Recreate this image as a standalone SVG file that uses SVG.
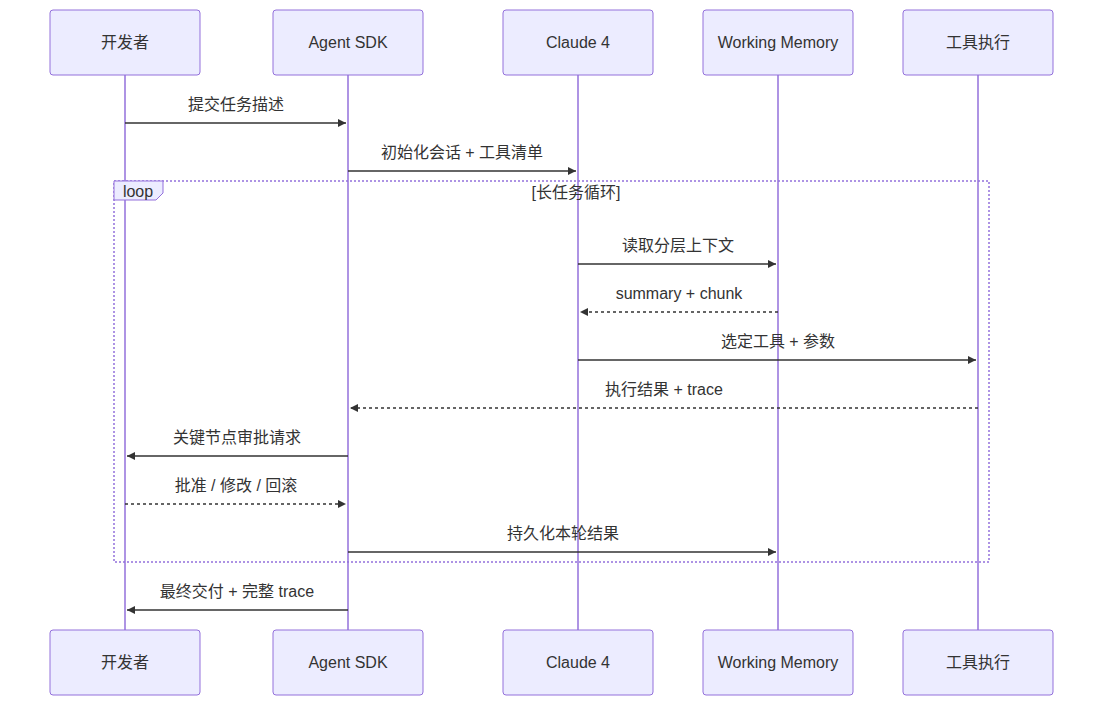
<svg xmlns="http://www.w3.org/2000/svg" width="1103" height="706" viewBox="0 0 1103 706">
<style>
.actor{fill:#ECECFF;stroke:#9370DB;stroke-width:1}
.life{stroke:#9370DB;stroke-width:1.5}
.t{font-family:"Liberation Sans","Noto Sans CJK SC",sans-serif;font-size:16px;fill:#333;text-anchor:middle}
.m{stroke:#333;stroke-width:1.5;fill:none}
.d{stroke-dasharray:3,3}
</style>
<defs>
<marker id="a" viewBox="0 0 10 10" refX="10" refY="5" markerWidth="8" markerHeight="8" orient="auto" markerUnits="userSpaceOnUse"><path d="M0,0L10,5L0,10z" fill="#333"/></marker>
</defs>
<rect width="1103" height="706" fill="#fff"/>
<g id="lifelines">
<line class="life" x1="125" y1="75" x2="125" y2="630"/>
<line class="life" x1="348" y1="75" x2="348" y2="630"/>
<line class="life" x1="578" y1="75" x2="578" y2="630"/>
<line class="life" x1="778" y1="75" x2="778" y2="630"/>
<line class="life" x1="978" y1="75" x2="978" y2="630"/>
</g>
<g id="loop">
<rect x="114" y="181" width="875" height="381" fill="none" stroke="#9370DB" stroke-width="1.5" stroke-dasharray="2,2"/>
<polygon points="114,181 163,181 163,193 156,200 114,200" fill="#ECECFF" stroke="#9370DB"/>
<text class="t" x="138" y="197" font-size="15">loop</text>
<text class="t" x="576" y="198">[长任务循环]</text>
</g>
<g id="actor-dev"><rect class="actor" x="50" y="10" width="150" height="65" rx="3"/><text class="t" x="125" y="48">开发者</text><rect class="actor" x="50" y="630" width="150" height="65" rx="3"/><text class="t" x="125" y="668">开发者</text></g>
<g id="actor-sdk"><rect class="actor" x="273" y="10" width="150" height="65" rx="3"/><text class="t" x="348" y="48">Agent SDK</text><rect class="actor" x="273" y="630" width="150" height="65" rx="3"/><text class="t" x="348" y="668">Agent SDK</text></g>
<g id="actor-claude"><rect class="actor" x="503" y="10" width="150" height="65" rx="3"/><text class="t" x="578" y="48">Claude 4</text><rect class="actor" x="503" y="630" width="150" height="65" rx="3"/><text class="t" x="578" y="668">Claude 4</text></g>
<g id="actor-mem"><rect class="actor" x="703" y="10" width="150" height="65" rx="3"/><text class="t" x="778" y="48">Working Memory</text><rect class="actor" x="703" y="630" width="150" height="65" rx="3"/><text class="t" x="778" y="668">Working Memory</text></g>
<g id="actor-tool"><rect class="actor" x="903" y="10" width="150" height="65" rx="3"/><text class="t" x="978" y="48">工具执行</text><rect class="actor" x="903" y="630" width="150" height="65" rx="3"/><text class="t" x="978" y="668">工具执行</text></g>
<g id="connectors">
<line class="m" x1="125" y1="123" x2="346" y2="123" marker-end="url(#a)"/><text class="t" x="236" y="110">提交任务描述</text>
<line class="m" x1="348" y1="171" x2="576" y2="171" marker-end="url(#a)"/><text class="t" x="462" y="158">初始化会话 + 工具清单</text>
<line class="m" x1="578" y1="264" x2="776" y2="264" marker-end="url(#a)"/><text class="t" x="678" y="251">读取分层上下文</text>
<line class="m d" x1="778" y1="312" x2="580" y2="312" marker-end="url(#a)"/><text class="t" x="679" y="299">summary + chunk</text>
<line class="m" x1="578" y1="360" x2="976" y2="360" marker-end="url(#a)"/><text class="t" x="778" y="347">选定工具 + 参数</text>
<line class="m d" x1="978" y1="408" x2="350" y2="408" marker-end="url(#a)"/><text class="t" x="664" y="395">执行结果 + trace</text>
<line class="m" x1="348" y1="456" x2="127" y2="456" marker-end="url(#a)"/><text class="t" x="237" y="443">关键节点审批请求</text>
<line class="m d" x1="125" y1="504" x2="346" y2="504" marker-end="url(#a)"/><text class="t" x="236" y="491">批准 / 修改 / 回滚</text>
<line class="m" x1="348" y1="552" x2="776" y2="552" marker-end="url(#a)"/><text class="t" x="563" y="539">持久化本轮结果</text>
<line class="m" x1="348" y1="610" x2="127" y2="610" marker-end="url(#a)"/><text class="t" x="237" y="597">最终交付 + 完整 trace</text>
</g>
</svg>
